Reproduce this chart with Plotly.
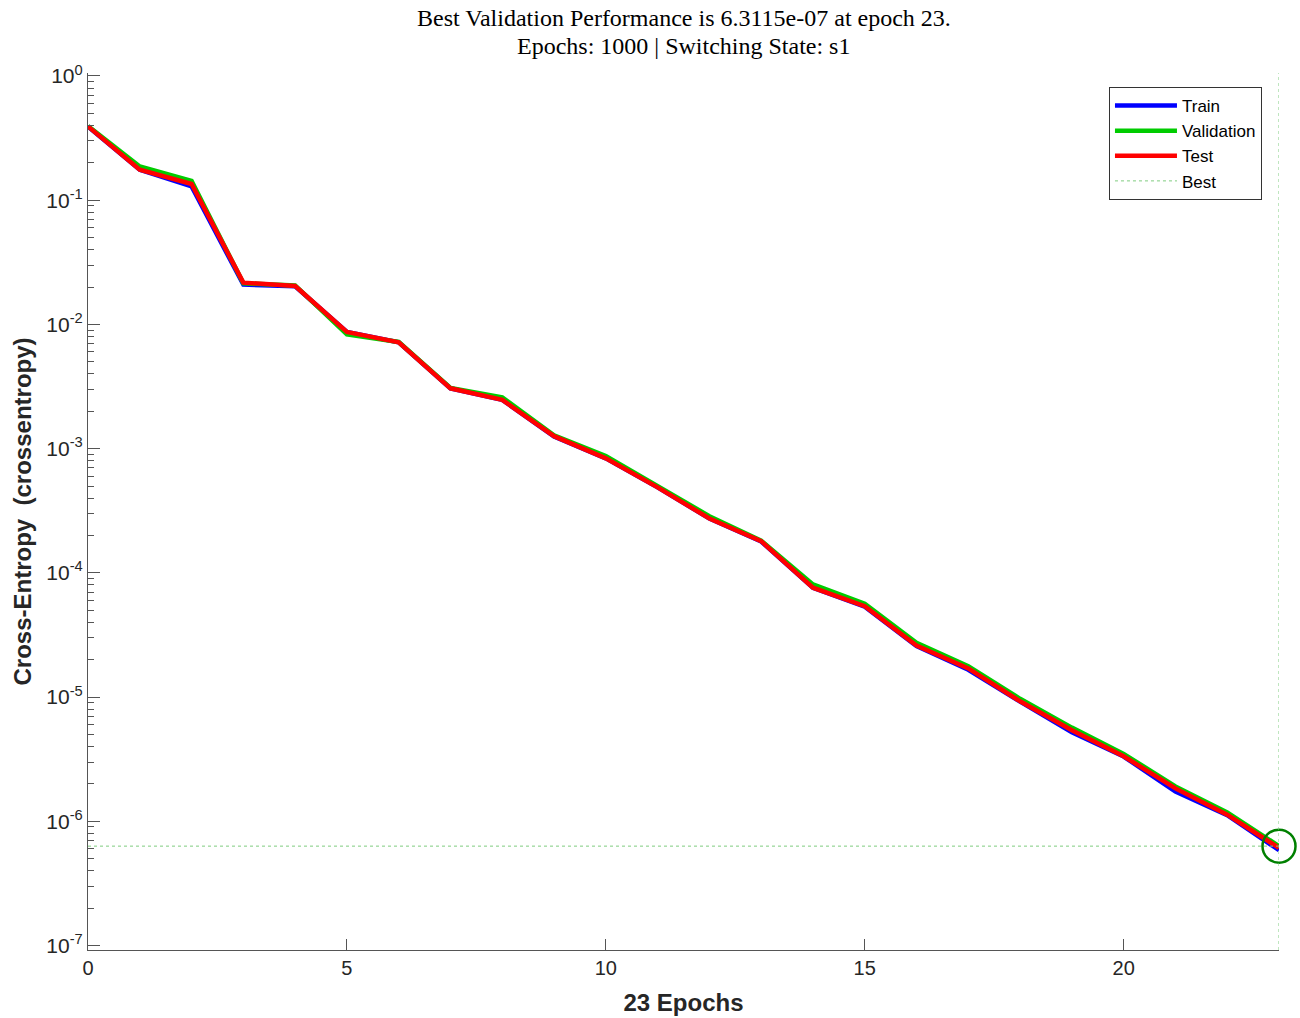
import plotly.graph_objects as go

# Training record: cross-entropy per epoch for each data split
epochs = list(range(24))
train = [0.392, 0.176, 0.129, 0.0209, 0.0203, 0.0087, 0.00718, 0.00306, 0.00247, 0.00125,
         8.36e-4, 4.88e-4, 2.74e-4, 1.79e-4, 7.6e-5, 5.35e-5, 2.58e-5, 1.66e-5, 9.2e-6,
         5.2e-6, 3.32e-6, 1.74e-6, 1.12e-6, 5.85e-7]
validation = [0.395, 0.187, 0.143, 0.0214, 0.0206, 0.0083, 0.00722, 0.00308, 0.00259, 0.00128,
              8.71e-4, 4.95e-4, 2.86e-4, 1.82e-4, 8.07e-5, 5.63e-5, 2.73e-5, 1.77e-5, 9.68e-6,
              5.68e-6, 3.49e-6, 1.91e-6, 1.18e-6, 6.3115e-7]
test = [0.393, 0.176, 0.135, 0.0217, 0.0204, 0.00871, 0.00719, 0.00306, 0.00247, 0.00126,
        8.36e-4, 4.88e-4, 2.74e-4, 1.80e-4, 7.6e-5, 5.39e-5, 2.60e-5, 1.70e-5, 9.25e-6,
        5.41e-6, 3.34e-6, 1.84e-6, 1.13e-6, 6.1e-7]

best_epoch = 23
best_value = 6.3115e-07
max_epochs = 1000

decades = list(range(-7, 1))
tick_text = ["10<sup>%d</sup>" % d for d in decades]

title_lines = [
    "Best Validation Performance is %.4e at epoch %d." % (best_value, best_epoch),
    "Epochs: %d | Switching State: s1" % max_epochs,
]
y_label = "Cross-Entropy  (crossentropy)"

axis_font = "Liberation Sans, Arial, sans-serif"
serif_font = "Liberation Serif, Times New Roman, serif"
tick_color = "#262626"
axis_color = "#555555"

fig = go.Figure()

fig.add_trace(go.Scatter(x=epochs, y=train, mode="lines", name="Train",
                         line=dict(color="#0000ff", width=4.5)))
fig.add_trace(go.Scatter(x=epochs, y=validation, mode="lines", name="Validation",
                         line=dict(color="#00cc00", width=4.5)))
fig.add_trace(go.Scatter(x=epochs, y=test, mode="lines", name="Test",
                         line=dict(color="#ff0000", width=4.5)))
# horizontal guide at the best validation value
fig.add_trace(go.Scatter(x=[epochs[0], best_epoch], y=[best_value, best_value], mode="lines",
                         name="Best", line=dict(color="#7fcc7f", width=1, dash="dot")))
# marker circling the best epoch
fig.add_trace(go.Scatter(x=[best_epoch], y=[best_value], mode="markers", showlegend=False,
                         marker=dict(symbol="circle-open", size=33, color="#008000",
                                     line=dict(color="#008000", width=2.5)),
                         cliponaxis=False))

# vertical guide at the best epoch, spanning the whole axis height
fig.add_shape(type="line", xref="x", yref="y domain", x0=best_epoch, x1=best_epoch, y0=0, y1=1,
              line=dict(color="#7fcc7f", width=1, dash="dot"))

# two-line title centred over the plotting area
for text, shift in zip(title_lines, [55, 27]):
    fig.add_annotation(text=text, xref="paper", yref="paper", x=0.5, y=1,
                       xanchor="center", yanchor="middle", yshift=shift, showarrow=False,
                       font=dict(family=serif_font, size=24, color="black"))

# rotated y-axis label left of the tick labels
fig.add_annotation(text="<b>%s</b>" % y_label, xref="paper", yref="paper", x=0, y=0.5,
                   xanchor="center", yanchor="middle", xshift=-66, textangle=-90,
                   showarrow=False, font=dict(family=axis_font, size=24, color=tick_color))

fig.update_layout(
    width=1300, height=1018,
    margin=dict(l=88, r=21, t=73, b=68),
    paper_bgcolor="white", plot_bgcolor="white",
    showlegend=True,
    legend=dict(x=0.9857, y=0.984, xanchor="right", yanchor="top",
                bgcolor="white", bordercolor="#333333", borderwidth=1,
                font=dict(family=axis_font, size=17, color="black"),
                itemwidth=62, tracegroupgap=0),
)

fig.update_xaxes(
    range=[0, 23], tickmode="array", tickvals=[0, 5, 10, 15, 20],
    ticks="inside", ticklen=11, tickcolor=axis_color, tickwidth=1,
    showline=True, linecolor=axis_color, linewidth=1.2, mirror=False,
    showgrid=False, zeroline=False, automargin=False,
    tickfont=dict(family=axis_font, size=20, color=tick_color),
    title=dict(text="<b>%d Epochs</b>" % best_epoch,
               font=dict(family=axis_font, size=24, color=tick_color), standoff=16),
)

fig.update_yaxes(
    type="log", range=[-7.036, 0.024],
    tickmode="array", tickvals=[10.0 ** d for d in decades], ticktext=tick_text,
    ticks="inside", ticklen=12, tickcolor=axis_color, tickwidth=1,
    minor=dict(tickmode="array",
               tickvals=[m * 10.0 ** d for d in decades[:-1] for m in range(2, 10)],
               ticks="inside", ticklen=6, tickcolor=axis_color, tickwidth=1, showgrid=False),
    showline=True, linecolor=axis_color, linewidth=1.2, mirror=False,
    showgrid=False, zeroline=False, automargin=False,
    tickfont=dict(family=axis_font, size=21, color=tick_color),
)

fig.write_html("out.html")
